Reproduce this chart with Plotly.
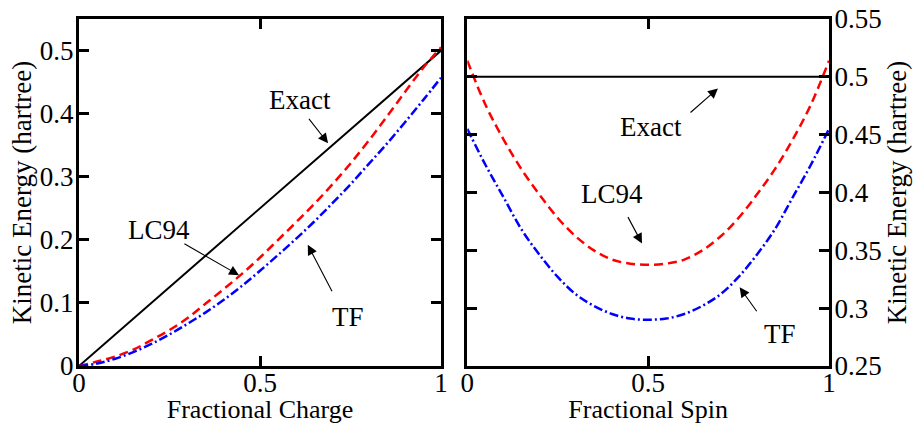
import plotly.graph_objects as go

# ---------------- data ----------------
# Left panel: fractional charge
charge_x = [0, 0.05, 0.10, 0.15, 0.20, 0.25, 0.30, 0.35, 0.40, 0.45, 0.50,
            0.55, 0.60, 0.65, 0.70, 0.75, 0.80, 0.85, 0.90, 0.95, 1.00]
charge_exact_x = [0, 1]
charge_exact_y = [0, 0.5]
charge_lc94 = [0, 0.007, 0.015, 0.026, 0.041, 0.057, 0.076, 0.099, 0.122, 0.146, 0.172,
               0.200, 0.228, 0.257, 0.288, 0.321, 0.357, 0.395, 0.434, 0.472, 0.505]
charge_tf = [0, 0.004, 0.0115, 0.022, 0.035, 0.050, 0.067, 0.085, 0.105, 0.127, 0.151,
             0.176, 0.202, 0.229, 0.258, 0.288, 0.320, 0.352, 0.386, 0.421, 0.457]

# Right panel: fractional spin
spin_x = [0, 0.05, 0.10, 0.15, 0.20, 0.25, 0.30, 0.35, 0.40, 0.45, 0.50,
          0.55, 0.60, 0.65, 0.70, 0.75, 0.80, 0.85, 0.90, 0.95, 1.00]
spin_exact_x = [0, 1]
spin_exact_y = [0.5, 0.5]
spin_lc94 = [0.514, 0.476, 0.446, 0.420, 0.398, 0.378, 0.362, 0.350, 0.342, 0.3385, 0.3375,
             0.3385, 0.342, 0.350, 0.362, 0.378, 0.398, 0.420, 0.446, 0.476, 0.514]
spin_tf = [0.455, 0.424, 0.396, 0.368, 0.346, 0.327, 0.312, 0.302, 0.295, 0.291, 0.290,
           0.291, 0.295, 0.302, 0.312, 0.327, 0.346, 0.368, 0.396, 0.424, 0.455]

x_tickvals = [0, 0.5, 1]
x_ticktext = ["0", "0.5", "1"]
left_y_tickvals = [0, 0.1, 0.2, 0.3, 0.4, 0.5]
left_y_ticktext = ["0", "0.1", "0.2", "0.3", "0.4", "0.5"]
right_y_tickvals = [0.25, 0.3, 0.35, 0.4, 0.45, 0.5, 0.55]
right_y_ticktext = ["0.25", "0.3", "0.35", "0.4", "0.45", "0.5", "0.55"]

# annotations: (text, text_x, text_y, tail_x, tail_y, head_x, head_y)
left_labels = [
    ("Exact", 0.610, 0.421, 0.632, 0.394, 0.688, 0.353),
    ("LC94", 0.221, 0.215, 0.287, 0.195, 0.442, 0.144),
    ("TF", 0.743, 0.078, 0.701, 0.116, 0.632, 0.192),
]
right_labels = [
    ("Exact", 0.508, 0.457, 0.613, 0.468, 0.693, 0.490),
    ("LC94", 0.400, 0.399, 0.442, 0.380, 0.483, 0.356),
    ("TF", 0.864, 0.278, 0.803, 0.296, 0.753, 0.318),
]

FONT = "Liberation Serif"
FS = 27
XTITLE_FS = 26

fig = go.Figure()

red_dash = "9px,5px"
blue_dashdot = "9px,3px,2px,3px"

# left panel traces
fig.add_trace(go.Scatter(x=charge_exact_x, y=charge_exact_y, mode="lines",
                         line=dict(color="black", width=2), xaxis="x", yaxis="y",
                         showlegend=False))
fig.add_trace(go.Scatter(x=charge_x, y=charge_lc94, mode="lines",
                         line=dict(color="#ff0000", width=2.5, dash=red_dash, shape="spline"),
                         xaxis="x", yaxis="y", showlegend=False))
fig.add_trace(go.Scatter(x=charge_x, y=charge_tf, mode="lines",
                         line=dict(color="#0000ff", width=2.5, dash=blue_dashdot, shape="spline"),
                         xaxis="x", yaxis="y", showlegend=False))

# right panel traces
fig.add_trace(go.Scatter(x=spin_exact_x, y=spin_exact_y, mode="lines",
                         line=dict(color="black", width=2), xaxis="x2", yaxis="y2",
                         showlegend=False))
fig.add_trace(go.Scatter(x=spin_x, y=spin_lc94, mode="lines",
                         line=dict(color="#ff0000", width=2.5, dash=red_dash, shape="spline"),
                         xaxis="x2", yaxis="y2", showlegend=False))
fig.add_trace(go.Scatter(x=spin_x, y=spin_tf, mode="lines",
                         line=dict(color="#0000ff", width=2.5, dash=blue_dashdot, shape="spline"),
                         xaxis="x2", yaxis="y2", showlegend=False))

annotations = []
for labels, xr, yr in ((left_labels, "x", "y"), (right_labels, "x2", "y2")):
    for text, tx, ty, ax_, ay_, hx, hy in labels:
        annotations.append(dict(x=tx, y=ty, xref=xr, yref=yr, text=text, showarrow=False,
                                font=dict(family=FONT, size=FS, color="black"),
                                xanchor="center", yanchor="middle"))
        annotations.append(dict(x=hx, y=hy, xref=xr, yref=yr, ax=ax_, ay=ay_,
                                axref=xr, ayref=yr, text="", showarrow=True,
                                arrowhead=2, arrowsize=1.8, arrowwidth=1.1,
                                arrowcolor="black", standoff=0, startstandoff=0))

axis_common = dict(showline=True, linecolor="black", linewidth=3, mirror="ticks",
                   ticks="inside", ticklen=10, tickwidth=3, tickcolor="black",
                   showgrid=False, zeroline=False, automargin=False,
                   tickfont=dict(family=FONT, size=FS, color="black"))

fig.update_layout(
    width=913, height=424,
    margin=dict(l=79, r=84, t=19, b=58),
    paper_bgcolor="white", plot_bgcolor="white",
    font=dict(family=FONT, size=FS, color="black"),
    xaxis=dict(domain=[0, 0.4827], range=[0, 1], tickvals=x_tickvals, ticktext=x_ticktext,
               anchor="y", ticklabelstandoff=-9,
               title=dict(text="Fractional Charge", font=dict(family=FONT, size=XTITLE_FS), standoff=8),
               **axis_common),
    yaxis=dict(range=[0, 0.55], tickvals=left_y_tickvals, ticktext=left_y_ticktext,
               anchor="x", ticklabelstandoff=-3,
               title=dict(text="Kinetic Energy (hartree)", font=dict(family=FONT, size=FS), standoff=1),
               **axis_common),
    xaxis2=dict(domain=[0.5177, 1], range=[0, 1], tickvals=x_tickvals, ticktext=x_ticktext,
                anchor="y2", ticklabelstandoff=-9,
                title=dict(text="Fractional Spin", font=dict(family=FONT, size=XTITLE_FS), standoff=8),
                **axis_common),
    yaxis2=dict(range=[0.25, 0.55], tickvals=right_y_tickvals, ticktext=right_y_ticktext,
                anchor="x2", side="right", ticklabelstandoff=-3,
                title=dict(text="Kinetic Energy (hartree)", font=dict(family=FONT, size=FS), standoff=4),
                **axis_common),
    annotations=annotations,
)

fig.write_html("out.html")
